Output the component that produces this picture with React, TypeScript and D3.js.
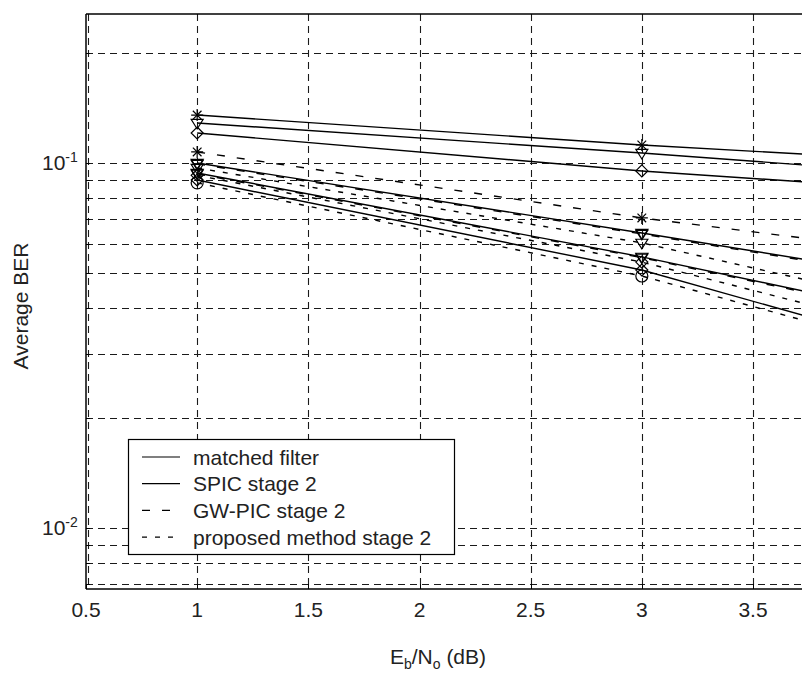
import React from 'react';
import * as d3 from 'd3';

// ---- data ----
const snrDb = [1, 3, 5];
const xTickValues = [0.5, 1, 1.5, 2, 2.5, 3, 3.5];
const yGridValues = [0.007, 0.008, 0.009, 0.01, 0.02, 0.03, 0.04, 0.05, 0.06, 0.07, 0.08, 0.09, 0.1, 0.2];
const yTickLabels = [
  { value: 0.1, exp: '-1' },
  { value: 0.01, exp: '-2' },
];
const methodNames = ['matched filter', 'SPIC stage 2', 'GW-PIC stage 2', 'proposed method stage 2'];

// matched filter (3 cases)
const mfA = [0.1353, 0.112, 0.0957];
const mfB = [0.1287, 0.1065, 0.0865];
const mfC = [0.1208, 0.0951, 0.0787];
// SPIC stage 2
const spicA = [0.1, 0.0643, 0.0408];
const spicB = [0.0939, 0.0553, 0.0305];
const spicC = [0.0898, 0.0509, 0.0231];
// GW-PIC stage 2
const gwA = [0.1072, 0.0707, 0.0498];
const gwB = [0.0994, 0.0639, 0.0405];
const gwC = [0.0934, 0.055, 0.0303];
// proposed method stage 2
const propA = [0.0969, 0.0604, 0.0321];
const propB = [0.0882, 0.049, 0.0227];
const propC = [0.0925, 0.0535, 0.0262];

const series = [
  { method: 0, marker: 'star', values: mfA },
  { method: 0, marker: 'tri', values: mfB },
  { method: 0, marker: 'dia', values: mfC },
  { method: 1, marker: 'tri', values: spicA },
  { method: 1, marker: 'tri', values: spicB },
  { method: 1, marker: 'dia', values: spicC },
  { method: 2, marker: 'star', values: gwA },
  { method: 2, marker: 'tri', values: gwB },
  { method: 2, marker: 'tri', values: gwC },
  { method: 3, marker: 'tri', values: propA },
  { method: 3, marker: 'circ', values: propB },
  { method: 3, marker: 'dia', values: propC },
];

// ---- layout ----
const W = 802;
const H = 673;
const left = 86;
const top = 14;
const bottom = 589;
const FONT = '"Liberation Sans", Arial, Helvetica, sans-serif';
const dashes = [null, null, '8,12', '5,8'];

const x = d3.scaleLinear().domain([0.5, 3.5]).range([left, 753]);
const y = d3.scaleLog().domain([0.0068, 0.256]).range([bottom, top]);
const right = x(4.2);

function Marker({ kind, cx, cy }: { kind: string; cx: number; cy: number }) {
  const s = 6;
  const common = { fill: 'none', stroke: '#000', strokeWidth: 1.2 };
  if (kind === 'star') {
    const d = s * 0.72;
    return (
      <g {...common}>
        <line x1={cx - s} y1={cy} x2={cx + s} y2={cy} />
        <line x1={cx} y1={cy - s} x2={cx} y2={cy + s} />
        <line x1={cx - d} y1={cy - d} x2={cx + d} y2={cy + d} />
        <line x1={cx - d} y1={cy + d} x2={cx + d} y2={cy - d} />
      </g>
    );
  }
  if (kind === 'tri') {
    return <path {...common} d={`M${cx - s},${cy - s * 0.6}L${cx + s},${cy - s * 0.6}L${cx},${cy + s}Z`} />;
  }
  if (kind === 'dia') {
    return <path {...common} d={`M${cx},${cy - s}L${cx + s},${cy}L${cx},${cy + s}L${cx - s},${cy}Z`} />;
  }
  return <circle {...common} cx={cx} cy={cy} r={s} />;
}

export default function App() {
  const line = d3
    .line<number>()
    .x((_, i) => x(snrDb[i]))
    .y((v) => y(v));

  const legendX = 128;
  const legendY = 439;
  const legendW = 326;
  const legendH = 115;
  const rowY = (i: number) => 457 + i * 26.7;

  return (
    <svg
      width={W}
      height={H}
      style={{ position: 'absolute', left: 0, top: 0, background: '#fff', fontFamily: FONT }}
    >
      <defs>
        <clipPath id="plotClip">
          <rect x={left} y={top} width={right - left} height={bottom - top} />
        </clipPath>
      </defs>
      <rect x={0} y={0} width={W} height={H} fill="#fff" />

      {/* grid */}
      <g stroke="#1a1a1a" strokeWidth={1.1} strokeDasharray="7,5" clipPath="url(#plotClip)">
        {yGridValues.map((v) => (
          <line key={'h' + v} x1={left} x2={right} y1={Math.round(y(v)) + 0.5} y2={Math.round(y(v)) + 0.5} />
        ))}
        {xTickValues.map((v) => (
          <line
            key={'v' + v}
            x1={Math.round(x(v)) + (v === 0.5 ? 2.5 : 0.5)}
            x2={Math.round(x(v)) + (v === 0.5 ? 2.5 : 0.5)}
            y1={top}
            y2={bottom}
          />
        ))}
      </g>

      {/* minor ticks on left and bottom */}
      <g stroke="#000" strokeWidth={1}>
        {yGridValues.map((v) => (
          <line key={'lt' + v} x1={left} x2={left + 4} y1={Math.round(y(v)) + 0.5} y2={Math.round(y(v)) + 0.5} />
        ))}
        {xTickValues.map((v) => (
          <line key={'bt' + v} x1={Math.round(x(v)) + 0.5} x2={Math.round(x(v)) + 0.5} y1={bottom} y2={bottom - 5} />
        ))}
      </g>

      {/* data */}
      <g clipPath="url(#plotClip)">
        {series.map((s, i) => (
          <path
            key={'s' + i}
            d={line(s.values) || ''}
            fill="none"
            stroke="#000"
            strokeWidth={1.4}
            strokeDasharray={dashes[s.method] || undefined}
          />
        ))}
        {series.map((s, i) =>
          s.values.map((v, j) => <Marker key={'m' + i + '-' + j} kind={s.marker} cx={x(snrDb[j])} cy={y(v)} />)
        )}
      </g>

      {/* axes box */}
      <g stroke="#000" strokeWidth={1.5} fill="none">
        <line x1={left} x2={left} y1={top} y2={bottom} />
        <line x1={left} x2={right} y1={top} y2={top} />
        <line x1={left} x2={right} y1={bottom} y2={bottom} />
      </g>

      {/* x tick labels */}
      <g fontSize={21} fill="#222" textAnchor="middle">
        {xTickValues.map((v) => (
          <text key={'xl' + v} x={x(v)} y={617}>
            {String(v)}
          </text>
        ))}
      </g>

      {/* y tick labels */}
      <g fill="#222">
        {yTickLabels.map((t) => (
          <text key={'yl' + t.value} x={42} y={y(t.value) + 7.5} fontSize={21}>
            10
            <tspan fontSize={14} dy={-8}>
              {t.exp}
            </tspan>
          </text>
        ))}
      </g>

      {/* axis labels */}
      <text
        transform={`translate(28,306) rotate(-90)`}
        textAnchor="middle"
        fontSize={21}
        fill="#222"
      >
        Average BER
      </text>
      <text x={438} y={664} textAnchor="middle" fontSize={21} fill="#222">
        E
        <tspan fontSize={14} dy={5}>
          b
        </tspan>
        <tspan fontSize={21} dy={-5}>
          /N
        </tspan>
        <tspan fontSize={14} dy={5}>
          o
        </tspan>
        <tspan fontSize={21} dy={-5}>
          {' (dB)'}
        </tspan>
      </text>

      {/* legend */}
      <g>
        <rect x={legendX + 0.5} y={legendY + 0.5} width={legendW} height={legendH} fill="#fff" stroke="#000" strokeWidth={1.2} />
        {methodNames.map((name, i) => (
          <g key={'lg' + i}>
            <line
              x1={142}
              x2={180}
              y1={rowY(i)}
              y2={rowY(i)}
              stroke="#000"
              strokeWidth={1.2}
              strokeDasharray={dashes[i] || undefined}
            />
            <text x={193} y={rowY(i) + 7.5} fontSize={21} fill="#222">
              {name}
            </text>
          </g>
        ))}
      </g>
    </svg>
  );
}
